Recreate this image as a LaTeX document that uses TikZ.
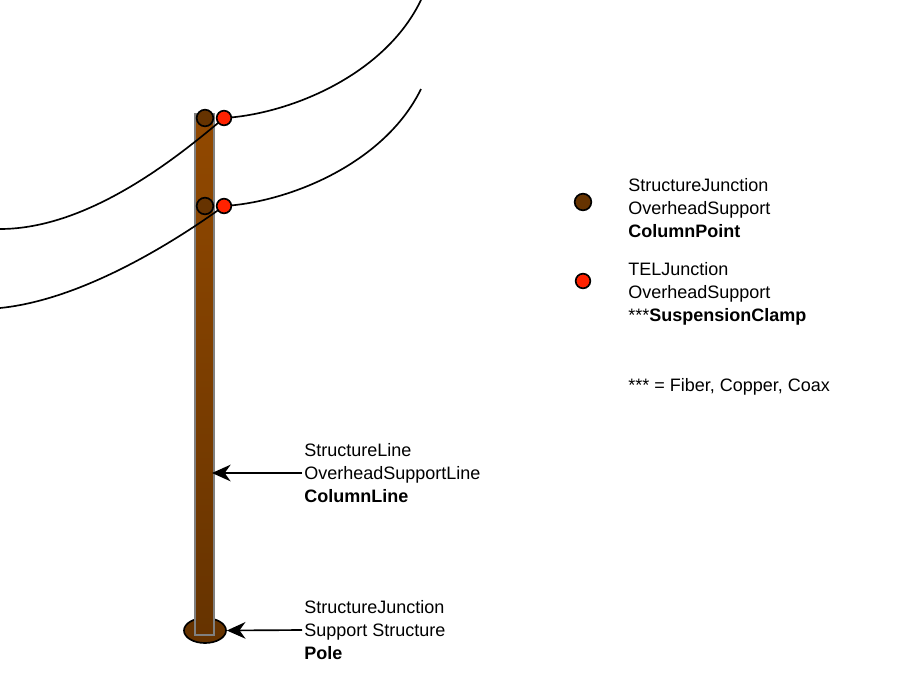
\documentclass[tikz,border=0pt]{standalone}
\usepackage{fontspec}
\setmainfont{Liberation Sans}
\usetikzlibrary{shapes.geometric,arrows.meta}
\definecolor{poletop}{HTML}{924900}
\definecolor{polebot}{HTML}{663300}
\definecolor{clampred}{HTML}{FF2200}
\tikzset{
  wire/.style={line width=1.25pt},
  colpt/.style={circle,draw,line width=1.25pt,fill=polebot,minimum size=12.5pt,inner sep=0pt},
  clamp/.style={circle,draw,line width=1.25pt,fill=clampred,minimum size=11pt,inner sep=0pt},
  tag/.style={anchor=west,align=left,inner sep=1.5pt,font=\fontsize{13.5}{17}\selectfont},
  pointer/.style={line width=1.25pt,-{Stealth[length=14pt,width=12.5pt,inset=4.5pt]}}
}
\begin{document}
\begin{tikzpicture}[x=0.75pt,y=-0.75pt]
\useasboundingbox (0,0) rectangle (906,672);

% Marking pole base by ellipse
\node (base) [ellipse,draw,line width=1.25pt,fill=polebot,minimum width=31.5pt,minimum height=18.75pt,inner sep=0pt] at (205,630.5) {};

% Drawing pole
\node (pole) [rectangle,draw=gray,line width=1.5pt,top color=poletop,bottom color=polebot,minimum width=14.25pt,minimum height=390.75pt,inner sep=0pt] at (204.5,374.5) {};

% Free ends of cables
\coordinate (wireAL) at (0,229);
\coordinate (wireAR) at (421,0);
\coordinate (wireBL) at (0,308);
\coordinate (wireBR) at (421,89);
\coordinate (holdA) at (224,118);
\coordinate (holdB) at (224,206);

% Drawing cables
\draw [wire] (wireAL) .. controls (90,229) and (180,155) .. (holdA);
\draw [wire] (holdA) .. controls (290,114) and (385,75) .. (wireAR);
\draw [wire] (wireBL) .. controls (80,300) and (170,245) .. (holdB);
\draw [wire] (holdB) .. controls (290,202) and (385,163) .. (wireBR);

% Marking points on pole
\node (cpTop) [colpt] at (205,118) {};
\node (cpMid) [colpt] at (205,206) {};
\node (scTop) [clamp] at (holdA) {};
\node (scMid) [clamp] at (holdB) {};

% Labels on pole
\node (colline) [tag] at (302,473) {StructureLine\\OverheadSupportLine\\\textbf{ColumnLine}};
\node (poletag) [tag] at (302,630) {StructureJunction\\Support Structure\\\textbf{Pole}};
\coordinate (polemid) at (212,473);
\draw [pointer] (colline.west) -- (polemid);
\draw [pointer] (poletag.west) -- (base.east);

% Legend
\node (cpKey) [colpt] at (583,202) {};
\node (scKey) [clamp] at (583,281) {};
\node (cpTag) [tag] at (626,208) {StructureJunction\\OverheadSupport\\\textbf{ColumnPoint}};
\node (scTag) [tag] at (626,294) {TELJunction\\OverheadSupport\\***\textbf{SuspensionClamp}};
\node (note) [tag] at (626,387) {*** = Fiber, Copper, Coax};
\end{tikzpicture}
\end{document}
